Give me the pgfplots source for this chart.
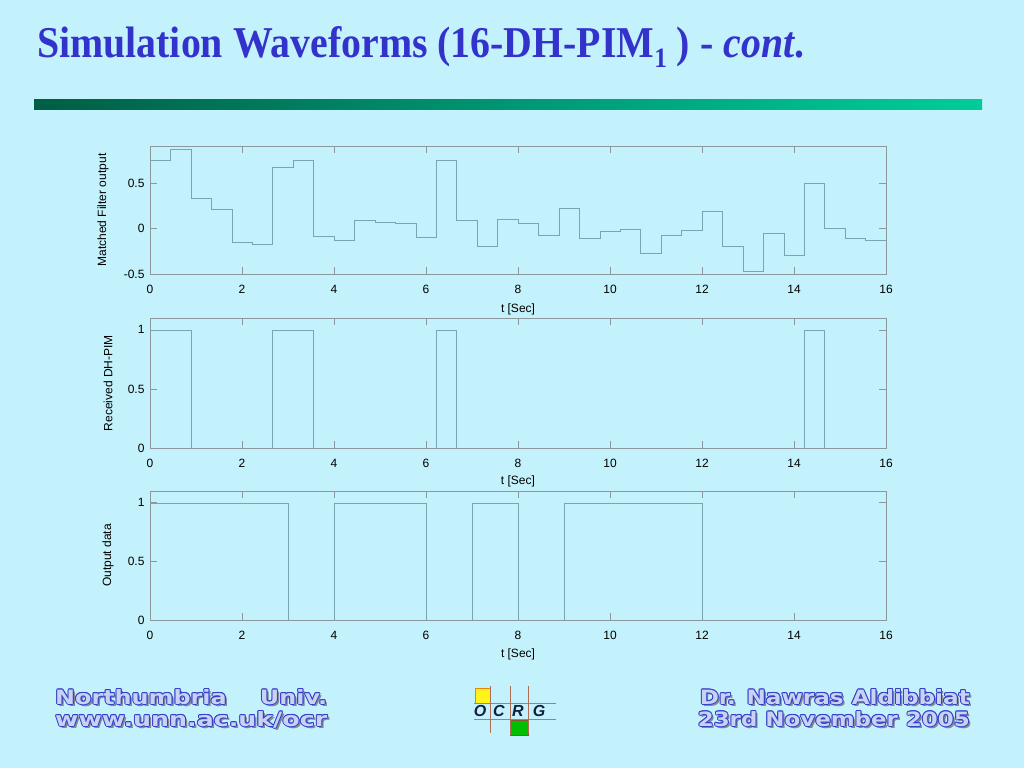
\documentclass[border=0pt]{standalone}
\usepackage{fontspec}
\setmainfont{Liberation Sans}
\newfontfamily\titlefont{Liberation Serif}
\newfontfamily\footfont{DejaVu Sans}
\usepackage{graphicx}
\usepackage{pgfplots}
\pgfplotsset{compat=1.18}
\definecolor{bg}{RGB}{196,242,252}
\definecolor{titleblue}{RGB}{51,51,204}
\definecolor{axcol}{RGB}{140,152,158}
\definecolor{lncol}{RGB}{120,165,175}
\definecolor{bardark}{RGB}{0,94,68}
\definecolor{barmid}{RGB}{0,150,115}
\definecolor{barlight}{RGB}{0,204,153}
\definecolor{outblue}{RGB}{52,64,200}
\definecolor{fillcol}{RGB}{200,210,245}
\definecolor{shadowgray}{RGB}{130,136,150}
\definecolor{logonavy}{RGB}{16,32,64}
\definecolor{logovert}{RGB}{170,110,90}
\definecolor{logohor}{RGB}{130,140,150}
\pgfplotsset{
 mystyle/.style={
  scale only axis, width=736pt, xmin=0, xmax=16, xtick={0,2,...,16},
  axis line style={axcol, line width=0.8pt},
  tick style={axcol, line width=0.6pt}, major tick length=7pt, tick align=inside,
  tick label style={font=\fontsize{12}{14}\selectfont, text=black},
  /pgf/number format/assume math mode=true,
  xlabel={t [Sec]},
  xticklabel style={yshift=-8pt},
  yticklabel style={xshift=-2pt},
  const plot,
  cycle list={{lncol, line width=1pt, mark=none}},
 }
}
\newcommand\fancy[4]{%
 \node[anchor=#3, inner sep=0, text=shadowgray] at (#1+2.2,#2-2.2) {#4};
 \foreach \dx/\dy in {1/0,-1/0,0/1,0/-1,0.7/0.7,-0.7/0.7,0.7/-0.7,-0.7/-0.7}
   {\node[anchor=#3, inner sep=0, text=outblue] at (#1+\dx,#2+\dy) {#4};}
 \node[anchor=#3, inner sep=0, text=fillcol] at (#1,#2) {#4};
}
\begin{document}
\begin{tikzpicture}[x=1pt,y=1pt]
\fill[bg] (0,0) rectangle (1024,768);
% title
\node[anchor=base west, inner sep=0, text=titleblue] at (37,710)
 {\scalebox{0.905}[1]{\titlefont\fontsize{44}{50}\selectfont\bfseries Simulation Waveforms (16-DH-PIM\raisebox{-0.22em}{\fontsize{28}{30}\selectfont 1} ) - \textit{cont}.}};
% bar
\shade[left color=bardark, right color=barlight, middle color=barmid] (34,658) rectangle (982,668);

% axis 1
\begin{axis}[mystyle, at={(150pt,494pt)}, anchor=south west, height=128pt,
  ymin=-0.5, ymax=0.91, ytick={-0.5,0,0.5},
  ylabel={Matched Filter output},
  every axis x label/.style={at={(axis description cs:0.5,-0.273)}, anchor=center, font=\fontsize{12}{14}\selectfont},
  every axis y label/.style={at={(axis description cs:-0.0639,0.5)}, anchor=center, rotate=90, font=\fontsize{12}{14}\selectfont}]
\addplot coordinates {
(0,0.755)(0.4444,0.876)(0.8889,0.333)(1.3333,0.216)(1.7778,-0.146)(2.2222,-0.168)
(2.6667,0.678)(3.1111,0.755)(3.5556,-0.084)(4.0,-0.124)(4.4444,0.088)(4.8889,0.073)
(5.3333,0.062)(5.7778,-0.095)(6.2222,0.755)(6.6667,0.088)(7.1111,-0.194)(7.5556,0.106)
(8.0,0.062)(8.4444,-0.070)(8.8889,0.227)(9.3333,-0.103)(9.7778,-0.026)(10.2222,-0.004)
(10.6667,-0.268)(11.1111,-0.070)(11.5556,-0.022)(12.0,0.194)(12.4444,-0.194)(12.8889,-0.465)
(13.3333,-0.048)(13.7778,-0.289)(14.2222,0.502)(14.6667,0.007)(15.1111,-0.106)(15.5556,-0.132)
(16,-0.132)};
\end{axis}

% axis 2
\begin{axis}[mystyle, at={(150pt,320pt)}, anchor=south west, height=130pt,
  ymin=0, ymax=1.1, ytick={0,0.5,1},
  ylabel={Received DH-PIM},
  every axis x label/.style={at={(axis description cs:0.5,-0.254)}, anchor=center, font=\fontsize{12}{14}\selectfont},
  every axis y label/.style={at={(axis description cs:-0.057,0.5)}, anchor=center, rotate=90, font=\fontsize{12}{14}\selectfont}]
\addplot coordinates {(0,1)(0.8889,0)(2.6667,1)(3.5556,0)(6.2222,1)(6.6667,0)(14.2222,1)(14.6667,0)(16,0)};
\end{axis}

% axis 3
\begin{axis}[mystyle, at={(150pt,148pt)}, anchor=south west, height=129pt,
  ymin=0, ymax=1.1, ytick={0,0.5,1},
  ylabel={Output data},
  every axis x label/.style={at={(axis description cs:0.5,-0.264)}, anchor=center, font=\fontsize{12}{14}\selectfont},
  every axis y label/.style={at={(axis description cs:-0.057,0.5)}, anchor=center, rotate=90, font=\fontsize{12}{14}\selectfont}]
\addplot coordinates {(0,1)(3,0)(4,1)(6,0)(7,1)(8,0)(9,1)(12,0)(16,0)};
\end{axis}

% footer
\fancy{55}{64}{base west}{\resizebox{272pt}{15pt}{\footfont\bfseries Northumbria~~~~Univ.}}
\fancy{55}{42}{base west}{\resizebox{272pt}{15pt}{\footfont\bfseries www.unn.ac.uk/ocr}}
\fancy{970}{64}{base east}{\resizebox{270pt}{15pt}{\footfont\bfseries Dr. Nawras Aldibbiat}}
\fancy{970}{42}{base east}{\resizebox{272pt}{15pt}{\footfont\bfseries 23rd November 2005}}

% logo
\fill[yellow!90!white, draw=orange!80!brown, line width=0.8pt] (475,65) rectangle (490,80);
\fill[green!75!black, draw=brown!70!black, line width=0.8pt] (510,33) rectangle (528,48);
\draw[logohor, line width=1pt] (474,65) -- (556,65);
\draw[logohor, line width=1pt] (474,49) -- (556,49);
\draw[logovert, line width=0.8pt] (490,82) -- (490,35);
\draw[logovert, line width=0.8pt] (510,82) -- (510,33);
\draw[logovert, line width=0.8pt] (528,82) -- (528,35);
\foreach \x/\l in {480/O,499/C,518/R,539/G}
  {\node[anchor=base, inner sep=0, text=logonavy] at (\x,52) {\fontsize{16}{17}\selectfont\bfseries\itshape \l};}
\useasboundingbox (0,0) rectangle (1024,768);
\end{tikzpicture}
\end{document}
